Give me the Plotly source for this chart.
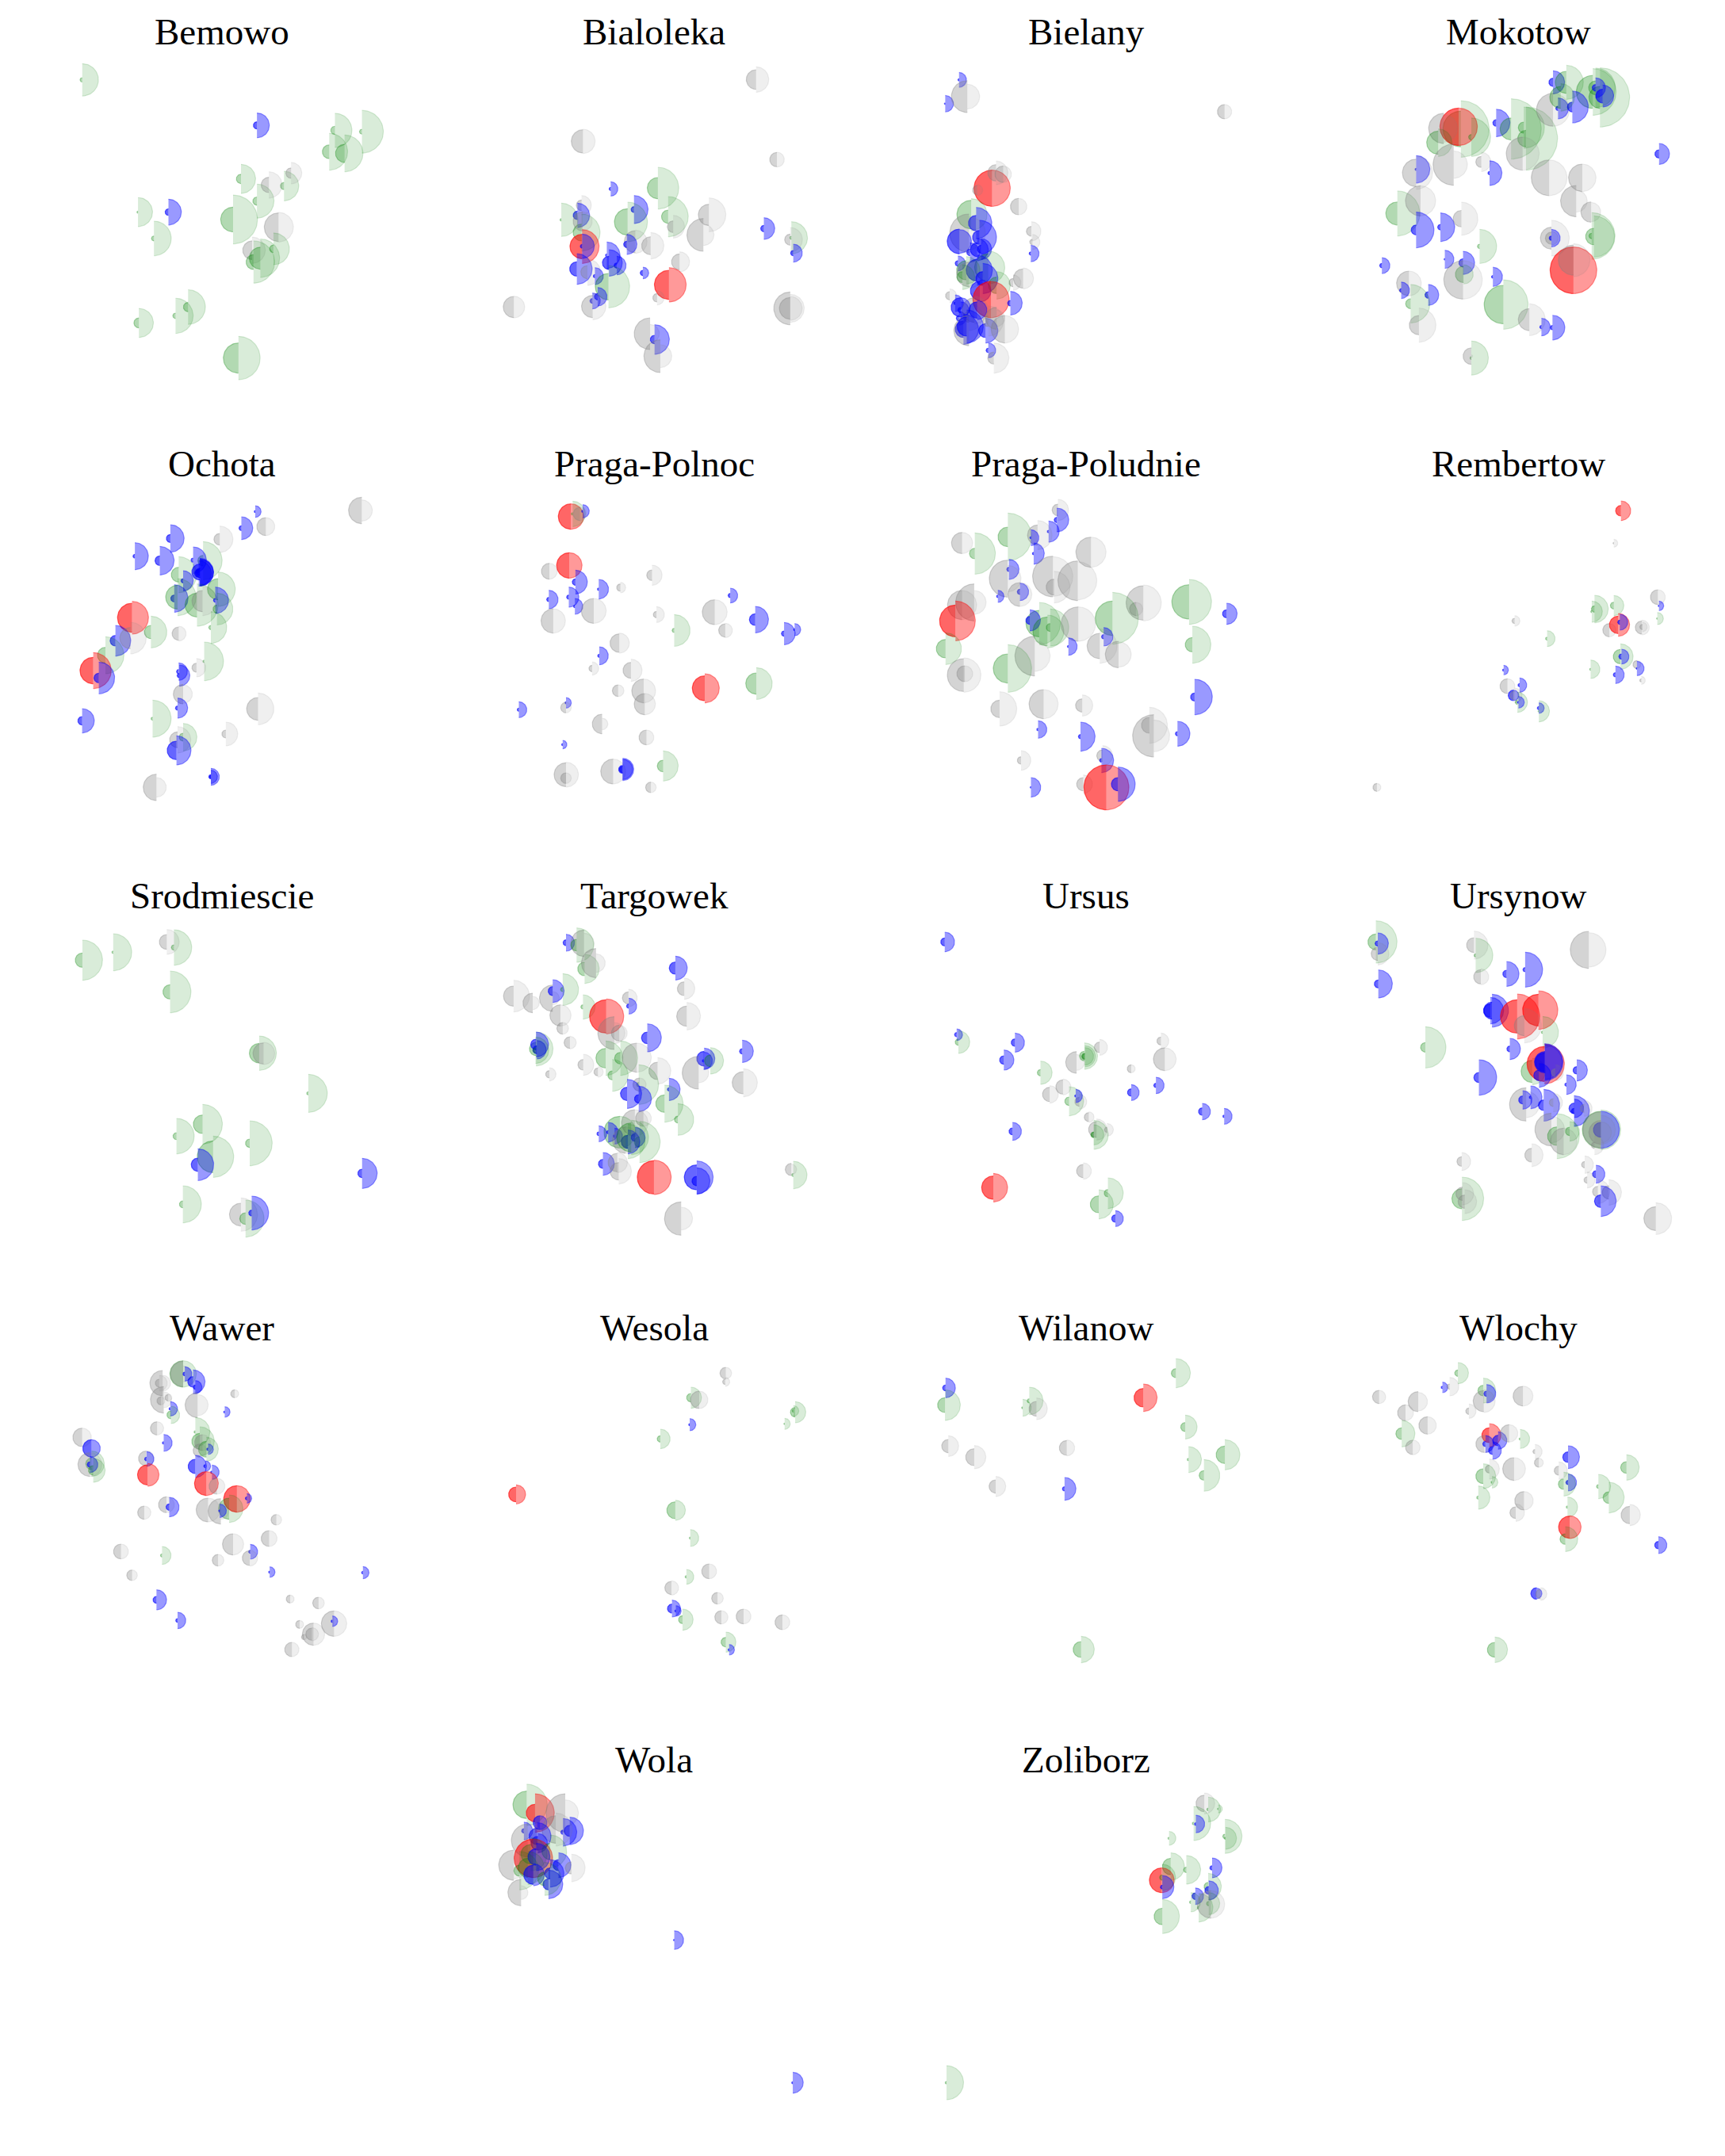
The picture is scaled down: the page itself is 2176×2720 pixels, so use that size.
import numpy as np
import plotly.graph_objects as go

# every mark: x, y, left radius, right radius, class
names = ["Bemowo", "Bialoleka", "Bielany", "Mokotow", "Ochota", "Praga-Polnoc", "Praga-Poludnie", "Rembertow",
         "Srodmiescie", "Targowek", "Ursus", "Ursynow", "Wawer", "Wesola", "Wilanow", "Wlochy", "Wola", "Zoliborz"]

bemowo = [(289,291,8,59,"g"),(903,457,13,45,"b"),(592,773,12,47,"b"),(485,773,4,53,"g"),(541,869,9,63,"g"),
          (847,652,17,53,"g"),(903,733,15,62,"g"),(819,800,45,89,"g"),(998,678,13,54,"g"),(945,674,28,48,"n"),
          (1023,631,19,39,"n"),(979,828,52,54,"n"),(1177,475,15,62,"g"),(1272,480,9,78,"g"),(1157,553,25,67,"g"),
          (1211,559,33,67,"g"),(961,907,14,58,"g"),(886,912,34,48,"n"),(915,941,40,70,"g"),(891,955,27,77,"g"),
          (488,1177,18,53,"g"),(617,1151,10,64,"g"),(661,1119,17,63,"g"),(838,1305,55,79,"g")]

bialoleka = [(1165,151,37,48,"n"),(541,385,44,46,"n"),(1240,454,27,28,"n"),(641,565,6,27,"b"),(811,562,40,79,"g"),
             (725,643,11,53,"b"),(536,627,20,37,"n"),(521,665,16,46,"b"),(463,682,5,63,"g"),(536,730,32,70,"g"),
             (540,688,36,36,"n"),(702,690,50,75,"g"),(848,670,25,76,"g"),(866,708,22,43,"n"),(995,663,40,64,"n"),
             (975,739,62,40,"n"),(1193,715,12,41,"b"),(1292,750,6,61,"g"),(1288,757,21,46,"n"),(1299,808,10,34,"b"),
             (538,783,46,64,"r"),(538,782,7,46,"b"),(730,765,42,44,"n"),(699,775,12,38,"b"),(785,780,34,50,"n"),
             (627,816,5,50,"b"),(635,845,25,50,"b"),(663,855,10,35,"b"),(519,868,27,58,"b"),(557,880,25,50,"n"),
             (584,895,6,32,"b"),(757,883,10,22,"b"),(889,841,30,38,"n"),(851,928,55,65,"r"),(633,935,50,80,"g"),
             (594,973,12,35,"b"),(575,989,9,30,"b"),(576,1010,42,50,"n"),(808,977,16,27,"n"),(292,1012,40,41,"n"),
             (1288,1017,62,53,"n"),(1288,1017,41,45,"n"),(783,1113,60,35,"n"),(799,1135,16,56,"b"),(820,1198,62,43,"n")]

bielany = [(172,291,4,27,"b"),(147,378,3,30,"b"),(187,352,58,45,"n"),(653,407,26,26,"n"),(232,686,66,66,"r"),
           (239,630,30,43,"n"),(252,635,30,30,"n"),(205,693,17,20,"n"),(280,753,30,30,"n"),(194,782,52,58,"g"),
           (203,813,28,57,"b"),(190,850,70,60,"n"),(173,880,45,43,"b"),(209,865,25,62,"b"),(303,843,18,35,"n"),
           (305,882,10,27,"n"),(302,924,6,30,"b"),(170,960,10,27,"b"),(205,910,25,40,"b"),(212,908,14,38,"b"),
           (192,920,12,35,"b"),(225,975,50,60,"g"),(205,985,40,55,"b"),(185,985,35,50,"g"),(190,1000,45,50,"n"),
           (288,1015,35,38,"n"),(270,1030,15,28,"n"),(215,1015,25,55,"b"),(178,1010,20,45,"g"),(240,1040,30,50,"g"),
           (210,1060,35,40,"b"),(230,1092,66,66,"r"),(265,1105,10,43,"b"),(155,1078,15,25,"n"),(165,1105,5,30,"b"),
           (175,1130,10,30,"b"),(172,1160,10,25,"b"),(190,1155,20,50,"n"),(200,1130,45,50,"n"),(175,1120,35,35,"b"),
           (205,1130,30,35,"b"),(180,1200,30,55,"b"),(190,1205,55,40,"n"),(186,1190,35,60,"b"),(220,1205,25,45,"b"),
           (225,1170,20,55,"n"),(255,1200,50,50,"n"),(240,1160,40,30,"n"),(225,1277,8,27,"b"),(235,1305,22,55,"n")]

mokotow = [(1248,300,15,42,"b"),(1272,300,40,62,"g"),(1333,355,40,108,"g"),(1325,320,25,72,"g"),(1320,335,60,85,"g"),
           (1338,350,25,40,"b"),(1325,320,12,36,"b"),(1440,561,15,38,"b"),(1145,448,12,50,"b"),(1172,470,40,110,"g"),
           (1195,465,20,75,"g"),(1199,505,30,115,"g"),(1193,560,60,60,"n"),(1248,400,60,60,"n"),(1257,395,8,38,"b"),
           (1283,390,18,58,"b"),(1262,355,40,50,"g"),(1081,470,65,103,"g"),(1077,462,68,68,"r"),(1050,468,55,50,"n"),
           (1040,520,42,50,"g"),(1068,600,75,50,"n"),(1100,500,10,70,"g"),(1118,590,20,35,"n"),(1000,617,4,50,"b"),
           (1000,630,50,60,"n"),(1133,631,6,45,"b"),(1241,648,65,65,"n"),(1301,648,50,50,"n"),(966,778,42,82,"g"),
           (1008,732,55,55,"n"),(1000,838,18,65,"b"),(1044,828,10,52,"b"),(1082,797,30,60,"n"),(1290,733,57,40,"n"),
           (1317,773,37,35,"n"),(1245,868,40,65,"n"),(1245,868,22,25,"n"),(1245,868,8,32,"b"),(1322,862,30,75,"g"),
           (1318,860,10,85,"g"),(1115,898,8,62,"g"),(1285,985,85,85,"r"),(1285,948,55,60,"n"),(938,968,8,29,"b"),
           (1052,945,3,33,"b"),(1085,958,15,42,"b"),(1086,1000,30,35,"g"),(1085,1020,70,70,"n"),(1139,1009,5,35,"b"),
           (987,1033,45,45,"n"),(973,1058,6,30,"b"),(1022,1075,12,38,"b"),(990,1107,18,70,"g"),(1158,1110,70,90,"g"),
           (1205,1165,40,58,"n"),(1227,1192,6,32,"b"),(1247,1194,8,45,"b"),(1005,1185,35,62,"n"),(1100,1305,5,62,"g"),
           (1100,1298,30,5,"n")]

ochota = [(460,136,4,22,"b"),(652,132,50,40,"n"),(435,199,9,43,"b"),(479,193,34,34,"n"),(396,241,22,50,"n"),
          (307,238,15,52,"b"),(243,305,7,51,"b"),(288,322,18,54,"b"),(366,322,20,72,"g"),(348,320,8,50,"b"),
          (322,375,28,68,"g"),(361,368,18,50,"b"),(360,365,30,52,"b"),(360,366,12,50,"b"),(358,370,15,48,"b"),
          (330,398,8,38,"b"),(393,430,40,65,"g"),(314,465,13,52,"b"),(320,460,45,70,"g"),(355,490,45,80,"g"),
          (365,475,40,55,"n"),(388,472,7,50,"b"),(391,505,15,60,"g"),(380,575,8,60,"g"),(238,538,55,62,"r"),
          (272,592,25,60,"g"),(208,625,20,58,"b"),(235,615,40,60,"n"),(322,598,25,28,"n"),(190,680,30,70,"g"),
          (368,703,5,73,"g"),(354,727,17,35,"n"),(168,738,50,68,"r"),(178,766,18,60,"b"),(323,757,8,40,"b"),
          (322,742,8,33,"b"),(330,827,37,35,"n"),(320,880,8,38,"b"),(465,883,43,60,"n"),(148,928,16,46,"b"),
          (275,920,6,70,"g"),(407,978,15,45,"n"),(330,990,15,52,"g"),(320,1000,30,50,"n"),(318,1040,35,55,"b"),
          (380,1140,8,32,"b"),(380,1140,5,25,"b"),(282,1180,50,37,"n")]

praga_polnoc = [(1029,155,48,48,"r"),(1032,145,5,48,"g"),(1050,135,4,25,"b"),(1045,145,25,25,"n"),(1026,340,48,48,"r"),
                (990,362,30,30,"n"),(1175,377,20,38,"n"),(1037,403,12,45,"b"),(1079,430,5,37,"b"),(1118,424,14,20,"n"),
                (989,469,8,35,"b"),(1025,460,8,38,"b"),(1316,454,8,28,"b"),(1036,495,5,30,"b"),(1070,512,47,47,"n"),
                (1183,526,12,30,"n"),(1288,517,47,47,"n"),(1361,545,22,50,"b"),(1215,586,8,60,"g"),(1307,586,25,27,"n"),
                (997,550,46,46,"n"),(1413,598,10,42,"b"),(1432,583,4,23,"b"),(1116,634,35,38,"n"),(1080,682,6,34,"b"),
                (1137,737,30,42,"n"),(1067,730,12,25,"n"),(1270,805,47,55,"r"),(1363,787,40,60,"g"),(1114,814,22,22,"n"),
                (1160,815,45,45,"n"),(1162,865,40,40,"n"),(935,886,6,30,"b"),(1020,860,4,20,"b"),(1020,878,20,20,"n"),
                (1085,940,37,22,"n"),(1165,991,28,28,"n"),(1014,1018,4,16,"b"),(1020,1132,45,47,"n"),(1020,1145,20,20,"n"),
                (1105,1120,47,47,"n"),(1122,1112,15,42,"b"),(1122,1112,12,38,"b"),(1195,1099,22,57,"g"),(1173,1180,20,20,"n")]

praga_poludnie = [(349,130,22,40,"n"),(347,168,10,45,"b"),(258,232,37,90,"g"),(332,212,5,40,"b"),(312,225,38,55,"n"),
                  (300,235,4,30,"b"),(175,255,40,40,"n"),(198,295,20,78,"g"),(305,295,5,40,"b"),(409,290,57,57,"n"),
                  (340,382,77,75,"n"),(385,398,75,72,"n"),(342,422,30,60,"n"),(260,355,8,38,"b"),(258,390,70,50,"n"),
                  (280,440,10,33,"b"),(280,450,45,45,"n"),(240,457,5,23,"b"),(197,480,70,45,"n"),(175,490,55,55,"n"),
                  (504,482,65,68,"n"),(491,505,25,25,"n"),(587,478,65,85,"g"),(655,523,15,40,"b"),(163,550,60,75,"r"),
                  (315,560,50,80,"g"),(298,548,15,40,"b"),(335,575,15,70,"g"),(330,590,55,62,"g"),(386,562,65,65,"n"),
                  (448,540,65,98,"g"),(432,610,8,35,"b"),(593,640,27,70,"g"),(145,655,35,60,"g"),(425,645,48,65,"n"),
                  (459,677,50,48,"n"),(368,647,4,33,"b"),(307,683,75,58,"n"),(258,730,55,90,"g"),(178,755,62,65,"n"),
                  (180,750,30,30,"n"),(597,838,15,67,"b"),(243,883,33,65,"n"),(323,865,55,55,"n"),(393,870,25,40,"n"),
                  (313,961,5,33,"b"),(390,988,8,55,"b"),(515,945,30,68,"n"),(523,985,80,60,"n"),(566,977,8,47,"b"),
                  (282,1078,14,37,"n"),(430,1060,22,38,"n"),(428,1078,7,46,"b"),(300,1180,3,37,"b"),(395,1168,25,35,"n"),
                  (437,1180,85,85,"r"),(458,1168,25,65,"b")]

rembertow = [(1371,133,20,37,"r"),(1358,256,3,15,"n"),(1438,460,28,28,"n"),(1440,493,3,18,"b"),(1437,541,3,23,"g"),
             (1323,505,12,52,"g"),(1358,492,13,38,"g"),(1318,515,4,40,"g"),(1178,550,10,20,"n"),(1237,617,6,30,"g"),
             (1350,585,25,25,"n"),(1366,565,33,43,"r"),(1369,555,8,30,"b"),(1409,575,25,28,"n"),(1410,573,10,18,"n"),
             (1370,685,27,48,"g"),(1372,685,10,28,"b"),(1316,733,4,35,"g"),(1400,715,15,15,"n"),(1400,730,3,27,"b"),
             (1361,754,8,33,"b"),(1408,775,6,15,"n"),(1158,736,4,18,"b"),(1165,797,28,28,"n"),(1187,793,6,27,"b"),
             (1176,832,20,20,"b"),(1178,832,17,28,"n"),(1183,858,8,38,"g"),(1185,858,4,22,"b"),(1222,880,6,20,"b"),
             (1222,892,3,40,"g"),(928,1180,15,15,"n")]

srodmiescie = [(297,184,27,76,"g"),(408,154,5,70,"g"),(601,115,28,47,"n"),(627,136,10,67,"g"),(613,304,27,79,"g"),
               (934,536,37,65,"g"),(950,537,40,42,"n"),(1111,688,6,72,"g"),(730,805,35,75,"g"),(636,850,13,67,"g"),
               (768,928,60,78,"g"),(713,958,25,60,"b"),(900,877,16,85,"g"),(1305,991,16,57,"b"),(659,1108,13,70,"g"),
               (868,1147,43,63,"n"),(885,1162,22,70,"g"),(907,1141,11,64,"b")]

targowek = [(480,118,11,32,"b"),(545,120,50,38,"n"),(518,127,22,65,"g"),(547,217,26,55,"g"),(588,195,55,35,"n"),
            (874,214,23,45,"b"),(906,292,26,40,"n"),(291,320,38,60,"n"),(360,346,37,25,"n"),(432,328,50,25,"n"),
            (432,301,17,43,"b"),(468,295,8,60,"g"),(541,361,8,46,"g"),(460,393,40,40,"n"),(468,442,22,22,"n"),
            (625,397,63,66,"r"),(705,327,23,33,"n"),(706,358,8,30,"b"),(915,396,38,52,"n"),(654,460,62,40,"n"),
            (672,460,30,30,"n"),(773,478,22,53,"b"),(494,496,22,24,"n"),(372,520,25,64,"g"),(372,503,20,47,"b"),
            (375,523,15,35,"b"),(370,525,10,50,"g"),(623,555,37,65,"g"),(676,555,22,65,"g"),(735,553,55,55,"n"),
            (542,580,20,40,"n"),(595,607,15,20,"n"),(647,620,17,60,"g"),(978,557,28,40,"b"),(976,565,5,33,"b"),
            (1000,565,22,50,"g"),(1115,529,10,42,"b"),(958,610,62,38,"n"),(810,603,33,50,"n"),(1119,648,42,53,"n"),
            (420,616,14,25,"n"),(742,655,8,75,"g"),(745,655,25,25,"n"),(700,690,25,55,"b"),(742,709,16,48,"b"),
            (851,673,6,42,"b"),(835,727,33,70,"g"),(883,787,13,60,"g"),(759,783,30,30,"n"),(728,800,50,50,"n"),
            (674,835,60,60,"g"),(598,841,7,30,"b"),(632,835,6,37,"b"),(655,850,5,30,"b"),(729,855,15,38,"b"),
            (703,870,25,65,"g"),(745,872,20,78,"g"),(703,872,25,45,"b"),(695,865,50,50,"n"),(715,855,55,65,"g"),
            (613,955,17,43,"b"),(665,950,35,38,"n"),(670,983,33,48,"n"),(797,1006,63,65,"r"),(951,1006,47,62,"b"),
            (951,1020,18,50,"b"),(1299,997,6,52,"g"),(1292,976,23,20,"n"),(895,1162,63,43,"n")]

ursus = [(285,115,15,37,"b"),(328,466,8,22,"b"),(334,494,12,43,"g"),(538,496,14,36,"b"),(498,562,16,38,"b"),
         (630,610,12,44,"g"),(711,664,27,30,"n"),(663,692,27,33,"n"),(760,571,41,30,"n"),(788,547,18,50,"g"),
         (790,548,12,40,"g"),(790,548,10,33,"g"),(843,514,20,30,"n"),(1064,490,15,30,"n"),(1078,559,43,43,"n"),
         (957,595,15,15,"n"),(957,685,14,30,"b"),(1046,658,8,31,"b"),(733,718,16,55,"g"),(770,720,17,28,"n"),
         (757,698,4,25,"b"),(1213,757,14,31,"b"),(1292,775,5,30,"b"),(804,778,17,20,"n"),(832,825,30,40,"n"),
         (822,845,11,55,"g"),(822,845,10,38,"g"),(870,826,10,24,"n"),(529,832,13,34,"b"),(784,982,25,31,"n"),
         (460,1045,44,54,"r"),(873,1066,14,58,"g"),(840,1108,32,55,"g"),(900,1162,14,30,"b")]

ursynow = [(283,115,30,80,"g"),(290,121,10,40,"b"),(290,160,25,42,"n"),(292,274,15,53,"b"),(642,127,28,53,"n"),
           (648,166,6,65,"g"),(667,247,27,30,"n"),(761,236,14,47,"b"),(829,220,8,66,"b"),(1062,145,70,65,"n"),
           (708,375,32,62,"b"),(702,375,25,50,"b"),(800,397,63,85,"r"),(878,373,60,73,"r"),(826,432,38,65,"n"),
           (893,457,5,60,"g"),(773,520,11,40,"b"),(464,514,18,78,"g"),(660,628,19,67,"b"),(855,605,42,50,"g"),
           (900,577,66,75,"r"),(900,570,35,70,"b"),(902,570,40,65,"b"),(880,620,20,45,"b"),(940,610,15,30,"n"),
           (1018,601,14,40,"b"),(980,655,6,37,"b"),(833,730,63,50,"n"),(820,713,15,35,"b"),(849,703,5,43,"b"),
           (897,733,20,60,"b"),(932,723,15,35,"n"),(1008,755,10,58,"b"),(1009,745,20,35,"b"),(1045,745,15,30,"n"),
           (925,825,62,50,"n"),(945,850,35,85,"g"),(970,870,50,50,"n"),(992,832,16,37,"g"),(1106,826,70,75,"g"),
           (1106,826,28,70,"b"),(1106,826,68,55,"n"),(1106,836,45,40,"n"),(1083,885,12,35,"n"),(597,946,18,34,"n"),
           (853,922,26,43,"n"),(1047,958,12,33,"n"),(1088,994,13,34,"b"),(1056,1016,12,30,"n"),(1095,1060,20,45,"n"),
           (1135,1063,25,48,"n"),(1106,1096,24,58,"b"),(598,1087,38,82,"g"),(608,1098,25,45,"n"),(600,1068,25,42,"n"),
           (1307,1162,45,60,"n")]

wawer = [(330,100,50,50,"g"),(330,100,48,30,"n"),(333,100,7,27,"b"),(348,130,20,45,"b"),(352,150,8,25,"b"),
         (293,135,48,30,"n"),(287,135,15,30,"n"),(295,198,50,30,"n"),(290,202,15,15,"n"),(303,190,12,14,"n"),
         (307,232,5,27,"b"),(308,255,15,33,"g"),(356,218,47,40,"n"),(423,175,15,15,"n"),(405,244,4,20,"b"),
         (283,306,25,25,"n"),(148,340,35,35,"n"),(352,320,5,55,"g"),(360,355,30,55,"g"),(295,361,5,32,"b"),
         (365,360,30,30,"n"),(375,385,5,20,"b"),(372,385,30,45,"g"),(360,390,25,25,"n"),(165,382,33,33,"b"),
         (165,440,22,48,"g"),(162,443,45,45,"n"),(162,443,10,30,"b"),(168,465,18,45,"g"),(263,420,28,30,"n"),
         (264,422,7,28,"b"),(352,450,27,42,"b"),(370,449,6,20,"b"),(382,472,5,27,"b"),(266,482,38,43,"r"),
         (372,515,45,45,"r"),(391,525,30,30,"n"),(427,573,50,50,"r"),(445,571,6,18,"b"),(413,610,40,52,"g"),
         (300,595,30,30,"n"),(305,604,12,37,"b"),(260,625,25,25,"n"),(375,615,45,45,"n"),(398,620,48,30,"n"),
         (396,618,4,25,"b"),(498,652,20,20,"n"),(420,745,40,40,"n"),(485,723,30,30,"n"),(218,772,28,28,"n"),
         (292,787,6,34,"g"),(451,773,6,28,"b"),(450,797,28,30,"n"),(393,805,22,22,"n"),(486,850,4,20,"b"),
         (654,852,5,23,"b"),(238,862,20,20,"n"),(282,955,13,38,"b"),(523,952,15,15,"n"),(574,967,22,22,"n"),
         (320,1033,7,31,"b"),(602,1045,48,48,"n"),(599,1036,5,20,"b"),(540,1048,15,15,"n"),(565,1085,42,42,"n"),
         (562,1085,23,25,"n"),(548,1096,10,10,"n"),(526,1143,27,27,"n")]

wesola = [(1308,97,22,22,"n"),(1307,130,10,17,"n"),(1245,190,16,40,"g"),(1260,198,33,33,"n"),(1433,245,18,40,"g"),
          (1430,240,5,20,"g"),(1243,292,4,23,"b"),(1414,289,3,21,"g"),(1190,346,12,37,"g"),(930,556,28,36,"r"),
          (1217,616,32,38,"g"),(1244,721,4,32,"g"),(1278,847,28,28,"n"),(1237,868,5,28,"g"),(1210,910,25,27,"n"),
          (1293,949,22,22,"n"),(1211,988,17,32,"b"),(1218,997,4,20,"b"),(1230,1030,15,40,"g"),(1300,1021,25,25,"n"),
          (1340,1018,28,28,"n"),(1410,1040,28,28,"n"),(1308,1115,18,38,"g"),(1314,1144,4,20,"b")]

wilanow = [(145,153,11,37,"b"),(144,218,28,58,"g"),(563,97,17,55,"g"),(504,190,35,52,"r"),(297,202,8,52,"g"),
           (285,228,4,32,"g"),(310,232,28,41,"n"),(580,301,17,45,"g"),(150,373,25,39,"n"),(197,415,32,44,"n"),
           (365,380,28,30,"n"),(652,406,33,57,"g"),(586,424,5,49,"g"),(614,484,18,60,"g"),(236,526,25,38,"n"),
           (361,535,8,43,"b"),(391,1143,30,50,"g")]

wlochy = [(1075,97,12,40,"g"),(1047,151,5,20,"b"),(1060,148,10,35,"n"),(932,187,25,25,"n"),(1121,163,20,47,"g"),
          (1127,175,10,35,"b"),(1122,203,40,43,"n"),(1003,205,38,35,"n"),(1193,184,37,38,"n"),(980,247,30,30,"n"),
          (1095,241,12,27,"n"),(1020,295,33,33,"n"),(973,326,22,50,"g"),(993,378,27,28,"n"),(1132,332,28,44,"r"),
          (1123,365,32,33,"n"),(1125,365,10,32,"b"),(1148,352,20,33,"b"),(1138,390,15,33,"b"),(1168,325,33,33,"n"),
          (1188,346,4,36,"g"),(1215,394,8,27,"n"),(1222,436,17,17,"n"),(1177,460,43,43,"n"),(1132,460,15,38,"n"),
          (1121,487,28,47,"g"),(1137,510,4,22,"g"),(1258,466,17,33,"n"),(1275,511,8,32,"b"),(1267,517,20,45,"g"),
          (1275,415,20,43,"b"),(1381,454,22,48,"g"),(1330,526,7,46,"g"),(1349,568,22,58,"g"),(1112,568,6,44,"g"),
          (1195,580,35,35,"n"),(1180,625,22,33,"n"),(1274,604,5,38,"g"),(1387,634,33,40,"n"),(1278,680,42,43,"r"),
          (1270,725,20,47,"g"),(1439,748,14,32,"b"),(1218,931,22,20,"b"),(1225,933,18,24,"n"),(1142,1144,28,48,"g")]

wola = [(148,280,50,75,"g"),(163,310,32,70,"r"),(172,345,25,25,"b"),(217,310,70,48,"n"),(225,375,20,50,"b"),
        (213,380,8,50,"b"),(200,370,50,60,"n"),(143,375,8,32,"b"),(167,395,30,50,"b"),(150,410,60,60,"n"),
        (168,420,25,35,"b"),(160,475,70,70,"r"),(155,460,35,60,"g"),(190,450,30,60,"g"),(165,470,30,50,"b"),
        (205,500,20,45,"b"),(228,510,22,50,"n"),(125,500,55,50,"n"),(150,510,35,60,"g"),(135,520,20,70,"g"),
        (160,535,35,40,"b"),(190,530,20,50,"b"),(187,570,20,52,"b"),(180,550,25,60,"g"),(138,600,48,25,"n"),
        (412,773,3,34,"b"),(624,1293,4,38,"b")]

zoliborz = [(1360,275,30,38,"n"),(1367,297,5,45,"g"),(1385,295,3,15,"g"),(1341,348,5,62,"g"),(1345,350,5,32,"b"),
            (1397,395,8,62,"g"),(1398,402,4,40,"g"),(1297,402,4,25,"g"),(1300,505,30,50,"g"),(1328,517,10,52,"g"),
            (1374,510,8,36,"b"),(1284,555,45,45,"r"),(1285,545,10,48,"g"),(1285,580,7,42,"b"),(1367,578,15,48,"g"),
            (1368,592,14,35,"b"),(1344,613,12,30,"b"),(1336,635,5,35,"g"),(1350,655,5,52,"g"),(1368,640,8,40,"g"),
            (1372,643,50,50,"n"),(1285,687,30,62,"g"),(899,1293,5,62,"g")]

panels = [bemowo, bialoleka, bielany, mokotow, ochota, praga_polnoc, praga_poludnie, rembertow, srodmiescie,
          targowek, ursus, ursynow, wawer, wesola, wilanow, wlochy, wola, zoliborz]
# grid cell of each district, the last row only has the two middle ones
cells = [(r, c) for r in range(4) for c in range(4)] + [(4, 1), (4, 2)]
# units of each panel's axes: origin and units per pixel
x_origin = [0, 546, 1090, 1090, 0, 0, 1092, 1092, 0, 546, 1092, 1638, 0, 0, 1092, 1092, 560, 560]
y_origin = [0, 50, 0, 0, 600, 600, 600, 600, 1150, 1150, 1150, 1150, 1700, 1700, 1700, 1700, 2180, 2180]
x_scale = [2.786, 2.857, 1.436, 1.436, 1.4286, 1.4286, 1.439, 1.439, 2.857, 2.857, 2.857, 2.9,
           1.4286, 1.4286, 1.439, 1.439, 1.418, 1.418]
y_scale = [2.889, 3, 2.889, 2.889, 3, 3, 3, 3, 3, 3, 3, 3, 3, 3, 3, 3, 2.889, 2.889]

colors = {"g": "0,128,0", "b": "0,0,255", "r": "255,0,0", "n": "128,128,128"}
left_alpha = {"g": 0.3, "b": 0.6, "r": 0.6, "n": 0.34}
right_alpha = {"g": 0.15, "b": 0.4, "r": 0.4, "n": 0.13}

W, H = 2176, 2720
PANEL_W, PANEL_H = 516, 540
theta = np.linspace(-np.pi / 2, np.pi / 2, 41)


def half(fig, cx, cy, r, aspect, side, col, alpha, ax):
    fig.add_trace(go.Scatter(
        x=cx + side * r * np.cos(theta) * aspect,
        y=cy + r * np.sin(theta),
        mode="lines", fill="toself", cliponaxis=False,
        line=dict(color=f"rgba({col},{alpha})", width=1.2),
        fillcolor=f"rgba({col},{alpha})",
        hoverinfo="skip", showlegend=False,
        xaxis=f"x{ax}", yaxis=f"y{ax}"))


fig = go.Figure()
layout = {}
for i, (name, marks) in enumerate(zip(names, panels)):
    row, col = cells[i]
    ax = i + 1
    aspect = x_scale[i] / y_scale[i]
    for x, y, left, right, kind in marks:
        half(fig, x, y, left, aspect, -1, colors[kind], left_alpha[kind], ax)
        half(fig, x, y, right, aspect, 1, colors[kind], right_alpha[kind], ax)

    x0 = 22 + 545 * col
    y0 = 545 * row
    suffix = "" if ax == 1 else str(ax)
    layout["xaxis" + suffix] = dict(
        domain=[x0 / W, (x0 + PANEL_W) / W],
        range=[(x0 - x_origin[i]) * x_scale[i], (x0 + PANEL_W - x_origin[i]) * x_scale[i]],
        visible=False, anchor="y" + suffix)
    layout["yaxis" + suffix] = dict(
        domain=[1 - (y0 + PANEL_H) / H, 1 - y0 / H],
        range=[(y0 + PANEL_H - y_origin[i]) * y_scale[i], (y0 - y_origin[i]) * y_scale[i]],
        visible=False, anchor="x" + suffix)
    fig.add_annotation(text=name, xref="paper", yref="paper", showarrow=False,
                       x=(x0 + PANEL_W / 2) / W, y=1 - (y0 + 40) / H,
                       xanchor="center", yanchor="middle",
                       font=dict(family="Liberation Serif", size=47, color="black"))

fig.update_layout(width=W, height=H, margin=dict(l=0, r=0, t=0, b=0),
                  paper_bgcolor="white", plot_bgcolor="white", **layout)
fig.write_html("out.html", config={"displayModeBar": False},
               post_script="document.body.style.margin='0';")
